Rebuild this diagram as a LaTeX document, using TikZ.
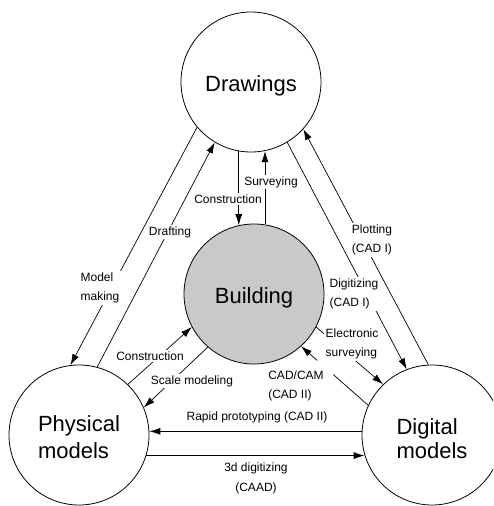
\documentclass[tikz,border=0pt]{standalone}
\usepackage{fontspec}
\setmainfont{Liberation Sans}
\usetikzlibrary{arrows.meta,calc}
\begin{document}
\begin{tikzpicture}[x=1pt,y=-1pt,
  stage/.style={circle,draw,line width=0.8pt,minimum size=140pt,inner sep=0pt,
    font=\fontsize{22}{25}\selectfont,align=left,text height=24pt},
  flow/.style={line width=0.7pt,-{Latex[length=11pt,width=7pt]}},
  lbl/.style={fill=white,inner sep=1.5pt,font=\fontsize{12}{19}\selectfont,align=left},
  plain/.style={inner sep=1pt,font=\fontsize{12}{20}\selectfont,align=center}]
\clip (0,0) rectangle (493,506);
\useasboundingbox (0,0) rectangle (493,506);

% the four stages
\node[stage] (D) at (251,82) {Drawings};
\node[stage,fill=black!21] (B) at (254,294) {Building};
\node[stage,font=\fontsize{22}{27}\selectfont,text height=48pt] (P) at (79,435) {Physical\\models};
\node[stage,font=\fontsize{22}{24}\selectfont,text height=47pt] (G) at (432,435) {Digital\\models};

% physical models <-> drawings
\draw[flow] (D.220) -- (P.97);
\node[lbl] (mm) at (100,288) {Model\\making};
\draw[flow] (P.75) -- (D.239);
\node[lbl] (dr) at (170,232) {Drafting};

% drawings <-> building
\draw[flow] (D.260) -- (D.260 |- B.102);
\node[lbl] (c1) at (228,199) {Construction};
\draw[flow] (B.81) -- (B.81 |- D.281);
\node[lbl] (sv) at (271,182) {Surveying};

% drawings <-> digital models
\draw[flow] (D.301) -- (G.111);
\node[lbl] (dg) at (354,294) {Digitizing\\(CAD I)};
\draw[flow] (G.93) -- (D.318);
\node[lbl] (pl) at (372,240) {Plotting\\(CAD I)};

% building <-> digital models
\draw[flow] (B.332) -- (G.134);
\node[lbl] (es) at (352,344) {Electronic\\surveying};
\draw[flow] (G.155) -- ($(G.155)!0.52!(B.312)$) ($(G.155)!0.76!(B.312)$) -- (B.312);
\node[lbl] (cc) at (296,386) {CAD/CAM\\(CAD II)};

% building <-> physical models
\draw[flow] (P.46) -- (B.208);
\node[lbl] (c2) at (150,356) {Construction};
\draw[flow] (B.229) -- (P.23);
\node[lbl] (sm) at (192,381) {Scale modeling};

% physical models <-> digital models
\draw[flow,line width=1pt] (G.177) -- (P.3);
\node[plain] (rp) at (257,417) {Rapid prototyping (CAD II)};
\draw[flow,line width=1pt] (P.343) -- (G.197);
\node[plain] (td) at (256,478) {3d digitizing\\(CAAD)};
\end{tikzpicture}
\end{document}
